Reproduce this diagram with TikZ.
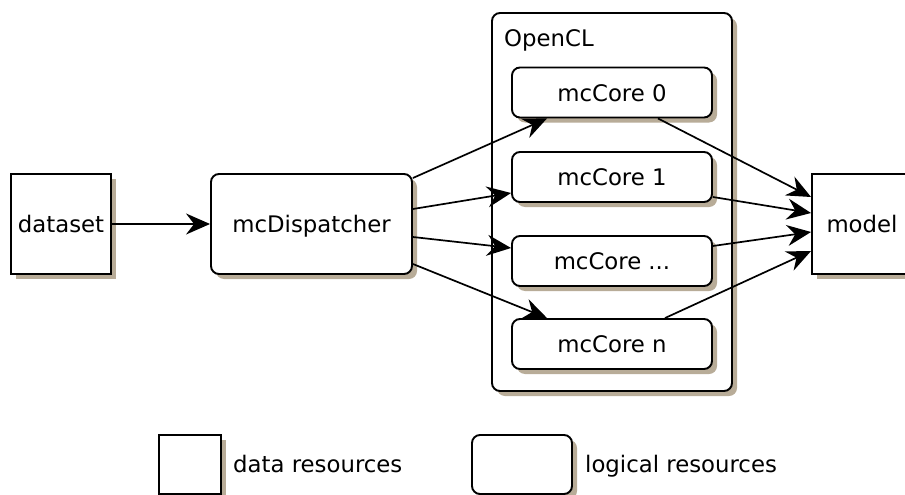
\documentclass[tikz,border=0pt]{standalone}
\usepackage{fontspec}
\setmainfont{DejaVu Sans}
\usetikzlibrary{arrows.meta}
\definecolor{shade}{RGB}{184,172,152}
\tikzset{
  boxshadow/.style={preaction={fill=shade, transform canvas={xshift=5pt,yshift=-5pt}}},
  box/.style={draw=black, line width=1.9pt, fill=white, boxshadow, inner sep=0pt,
    font=\fontsize{22.8}{27}\selectfont, text height=17pt, text depth=0pt},
  datares/.style={box, minimum width=100pt, minimum height=100pt},
  logres/.style={box, rounded corners=8pt},
  core/.style={logres, minimum width=200pt, minimum height=50pt},
  label/.style={inner sep=0pt, font=\fontsize{22.8}{27}\selectfont},
  arr/.style={-{Stealth[length=24pt,width=21pt,inset=8pt]}, line width=1.7pt},
}
\begin{document}
\begin{tikzpicture}[x=1pt, y=-1pt]
  \useasboundingbox (0,0) rectangle (905,495);
  \clip (0,0) rectangle (905,495);

  % data resources
  \node[datares] (data) at (61,224) {dataset};
  \node[datares] (model) at (862,224) {model};

  % dispatcher
  \node[logres, minimum width=201pt, minimum height=100pt] (disp) at (311.5,224) {mcDispatcher};

  % OpenCL device with its cores
  \node[logres, minimum width=240pt, minimum height=378pt] (ocl) at (612,202) {};
  \node[label, anchor=base west] (ocltitle) at (504,47) {OpenCL};
  \node[core] (c0) at (612,92.5) {mcCore 0};
  \node[core] (c1) at (612,177) {mcCore 1};
  \node[core] (c2) at (612,261) {mcCore ...};
  \node[core] (c3) at (612,344) {mcCore n};

  % data flow
  \draw[arr] (data.east) -- (disp.west);
  \draw[arr] ([yshift=46pt]disp.east) -- ([xshift=-65pt]c0.south);
  \draw[arr] ([yshift=15pt]disp.east) -- ([yshift=-16pt]c1.west);
  \draw[arr] ([yshift=-13pt]disp.east) -- ([yshift=13pt]c2.west);
  \draw[arr] ([yshift=-40pt]disp.east) -- ([xshift=-65pt]c3.north);

  \draw[arr] ([xshift=46pt]c0.south) -- ([yshift=27pt]model.west);
  \draw[arr] ([yshift=-20pt]c1.east) -- ([yshift=11pt]model.west);
  \draw[arr] ([yshift=15pt]c2.east) -- ([yshift=-8pt]model.west);
  \draw[arr] ([xshift=53pt]c3.north) -- ([yshift=-27pt]model.west);

  % legend
  \node[datares, minimum width=62pt, minimum height=59pt] (legdata) at (190,464.5) {};
  \node[label, anchor=base west] (legdatatxt) at (233,472) {data resources};
  \node[logres, minimum width=100pt, minimum height=59pt] (leglog) at (522,464.5) {};
  \node[label, anchor=base west] (leglogtxt) at (585,472) {logical resources};
\end{tikzpicture}
\end{document}
